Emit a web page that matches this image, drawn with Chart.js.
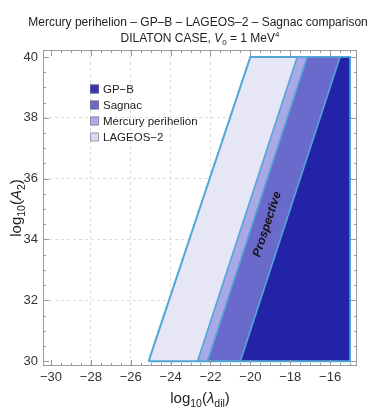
<!DOCTYPE html>
<html>
<head>
<meta charset="utf-8">
<script src="https://cdn.jsdelivr.net/npm/chart.js@4.4.1/dist/chart.umd.min.js"></script>
<style>
  html, body { margin: 0; padding: 0; background: #fff; }
</style>
</head>
<body>
<canvas id="chart" width="373" height="411"></canvas>
<script>
  // band edges in log10(lambda_dil), read at the bottom (A2 = 30) and top (A2 = 40) of the plot
  const regionNames = ['GP\u2212B', 'Sagnac', 'Mercury perihelion', 'LAGEOS\u22122'];
  const edgeAtLowA = [-20.5, -22.15, -22.65, -25.1];
  const edgeAtHighA = [-15.5, -17.15, -17.65, -20.0];
  const rightEdge = -15;
  const aLimits = [30, 40];
  const xTicks = [-30, -28, -26, -24, -22, -20, -18, -16];
  const yTicks = [30, 32, 34, 36, 38, 40];
  const note = { text: 'Prospective', x: -19.15, y: 34.5 };

  const fillColors = ['#2323a8', '#6a6acc', '#a9a9e8', '#e6e6f6'];
  const legendColors = ['#3434b4', '#6c6cc8', '#ababee', '#d9d9f2'];
  const edgeColor = '#52a6d6';
  const FONT = "'Liberation Sans', Arial, sans-serif";
  const minus = v => String(v).replace('-', '\u2212');

  // draw a row of text pieces (for sub/superscripts)
  function drawRuns(ctx, runs, x, y) {
    let w = 0;
    runs.forEach(r => { ctx.font = r.font; w += ctx.measureText(r.t).width; });
    let cx = x - w / 2;
    ctx.textBaseline = 'alphabetic';
    ctx.textAlign = 'left';
    runs.forEach(r => {
      ctx.font = r.font;
      ctx.fillText(r.t, cx, y + (r.dy || 0));
      cx += ctx.measureText(r.t).width;
    });
  }

  const extras = {
    id: 'extras',
    afterDraw(chart) {
      const { ctx, chartArea: a, scales: { x, y } } = chart;
      ctx.save();

      // frame with inward ticks
      ctx.strokeStyle = '#9a9a9a';
      ctx.lineWidth = 1;
      ctx.strokeRect(a.left + 0.5, a.top + 0.5, a.right - a.left - 1, a.bottom - a.top - 1);
      ctx.beginPath();
      for (let v = -30.5; v <= -14.5; v += 0.5) {
        const px = Math.round(x.getPixelForValue(v)) + 0.5;
        if (px < a.left || px > a.right) continue;
        const len = xTicks.includes(v) ? 6 : 3;
        ctx.moveTo(px, a.bottom); ctx.lineTo(px, a.bottom - len);
        ctx.moveTo(px, a.top); ctx.lineTo(px, a.top + len);
      }
      for (let v = 30; v <= 40; v += 0.5) {
        const py = Math.round(y.getPixelForValue(v)) + 0.5;
        const len = yTicks.includes(v) ? 6 : 3;
        ctx.moveTo(a.left, py); ctx.lineTo(a.left + len, py);
        ctx.moveTo(a.right, py); ctx.lineTo(a.right - len, py);
      }
      ctx.stroke();

      ctx.fillStyle = '#222';
      // title
      drawRuns(ctx, [{ t: 'Mercury perihelion \u2013 GP\u2013B \u2013 LAGEOS\u20132 \u2013 Sagnac comparison', font: '12px ' + FONT }], 198, 26);
      drawRuns(ctx, [
        { t: 'DILATON CASE, ', font: '12px ' + FONT },
        { t: 'V', font: 'italic 12px ' + FONT },
        { t: '0', font: '8px ' + FONT, dy: 3 },
        { t: ' = 1 MeV', font: '12px ' + FONT },
        { t: '4', font: '8px ' + FONT, dy: -5 }
      ], 200, 42);

      // axis titles
      drawRuns(ctx, [
        { t: 'log', font: '15px ' + FONT },
        { t: '10', font: '10.5px ' + FONT, dy: 4 },
        { t: '(', font: '15px ' + FONT },
        { t: '\u03bb', font: 'italic 15px ' + FONT },
        { t: 'dil', font: '10.5px ' + FONT, dy: 4 },
        { t: ')', font: '15px ' + FONT }
      ], (a.left + a.right) / 2, 403);
      ctx.save();
      ctx.translate(21, (a.top + a.bottom) / 2);
      ctx.rotate(-Math.PI / 2);
      drawRuns(ctx, [
        { t: 'log', font: '15px ' + FONT },
        { t: '10', font: '10.5px ' + FONT, dy: 4 },
        { t: '(', font: '15px ' + FONT },
        { t: 'A', font: 'italic 15px ' + FONT },
        { t: '2', font: '10.5px ' + FONT, dy: 4 },
        { t: ')', font: '15px ' + FONT }
      ], 0, 0);
      ctx.restore();

      // legend
      regionNames.forEach((name, i) => {
        const ly = 89 + i * 16;
        ctx.fillStyle = legendColors[i];
        ctx.fillRect(90, ly - 4.5, 9, 9);
        ctx.strokeStyle = '#777';
        ctx.lineWidth = 0.6;
        ctx.strokeRect(90.5, ly - 4, 8, 8);
        ctx.fillStyle = '#222';
        ctx.font = '11.5px ' + FONT;
        ctx.textAlign = 'left';
        ctx.textBaseline = 'middle';
        ctx.fillText(name, 103, ly + 0.5);
      });

      // label along the band
      const nx = x.getPixelForValue(note.x), ny = y.getPixelForValue(note.y);
      const ang = Math.atan2(y.getPixelForValue(aLimits[1]) - y.getPixelForValue(aLimits[0]),
        x.getPixelForValue(edgeAtHighA[1]) - x.getPixelForValue(edgeAtLowA[1]));
      ctx.translate(nx, ny);
      ctx.rotate(ang);
      ctx.fillStyle = '#111';
      ctx.font = 'italic bold 12px ' + FONT;
      ctx.textAlign = 'center';
      ctx.textBaseline = 'middle';
      ctx.fillText(note.text, 0, 0);
      ctx.restore();
    }
  };

  const datasets = regionNames.map((name, i) => ({
    label: name,
    data: [
      { x: edgeAtLowA[i], y: aLimits[0] },
      { x: rightEdge, y: aLimits[0] },
      { x: rightEdge, y: aLimits[1] },
      { x: edgeAtHighA[i], y: aLimits[1] },
      { x: edgeAtLowA[i], y: aLimits[0] }
    ],
    showLine: true,
    fill: 'shape',
    backgroundColor: fillColors[i],
    borderColor: edgeColor,
    borderWidth: i === 3 ? 2 : 1.6,
    pointRadius: 0,
    tension: 0
  }));

  new Chart(document.getElementById('chart'), {
    type: 'scatter',
    data: { datasets },
    plugins: [extras],
    options: {
      responsive: false,
      animation: false,
      layout: { padding: { top: 50, right: 16, left: 0, bottom: 0 } },
      plugins: { legend: { display: false }, tooltip: { enabled: false }, title: { display: false } },
      scales: {
        x: {
          type: 'linear',
          min: -30.4,
          max: -14.65,
          afterBuildTicks: s => { s.ticks = xTicks.map(v => ({ value: v })); },
          afterFit: s => { s.height = 45; },
          ticks: { callback: minus, font: { size: 13, family: FONT }, color: '#333', padding: 4, maxRotation: 0 },
          grid: { color: ctx => ctx.tick && ctx.tick.value === -30 ? 'rgba(0,0,0,0)' : '#dcdcdc', drawTicks: false },
          border: { display: false, dash: [3, 3] }
        },
        y: {
          type: 'linear',
          min: 29.84,
          max: 40.23,
          afterBuildTicks: s => { s.ticks = yTicks.map(v => ({ value: v })); },
          afterFit: s => { s.width = 43; },
          ticks: { font: { size: 13, family: FONT }, color: '#333', padding: 5 },
          grid: { color: ctx => ctx.tick && (ctx.tick.value === 30 || ctx.tick.value === 40) ? 'rgba(0,0,0,0)' : '#dcdcdc', drawTicks: false },
          border: { display: false, dash: [3, 3] }
        }
      }
    }
  });
</script>
</body>
</html>
